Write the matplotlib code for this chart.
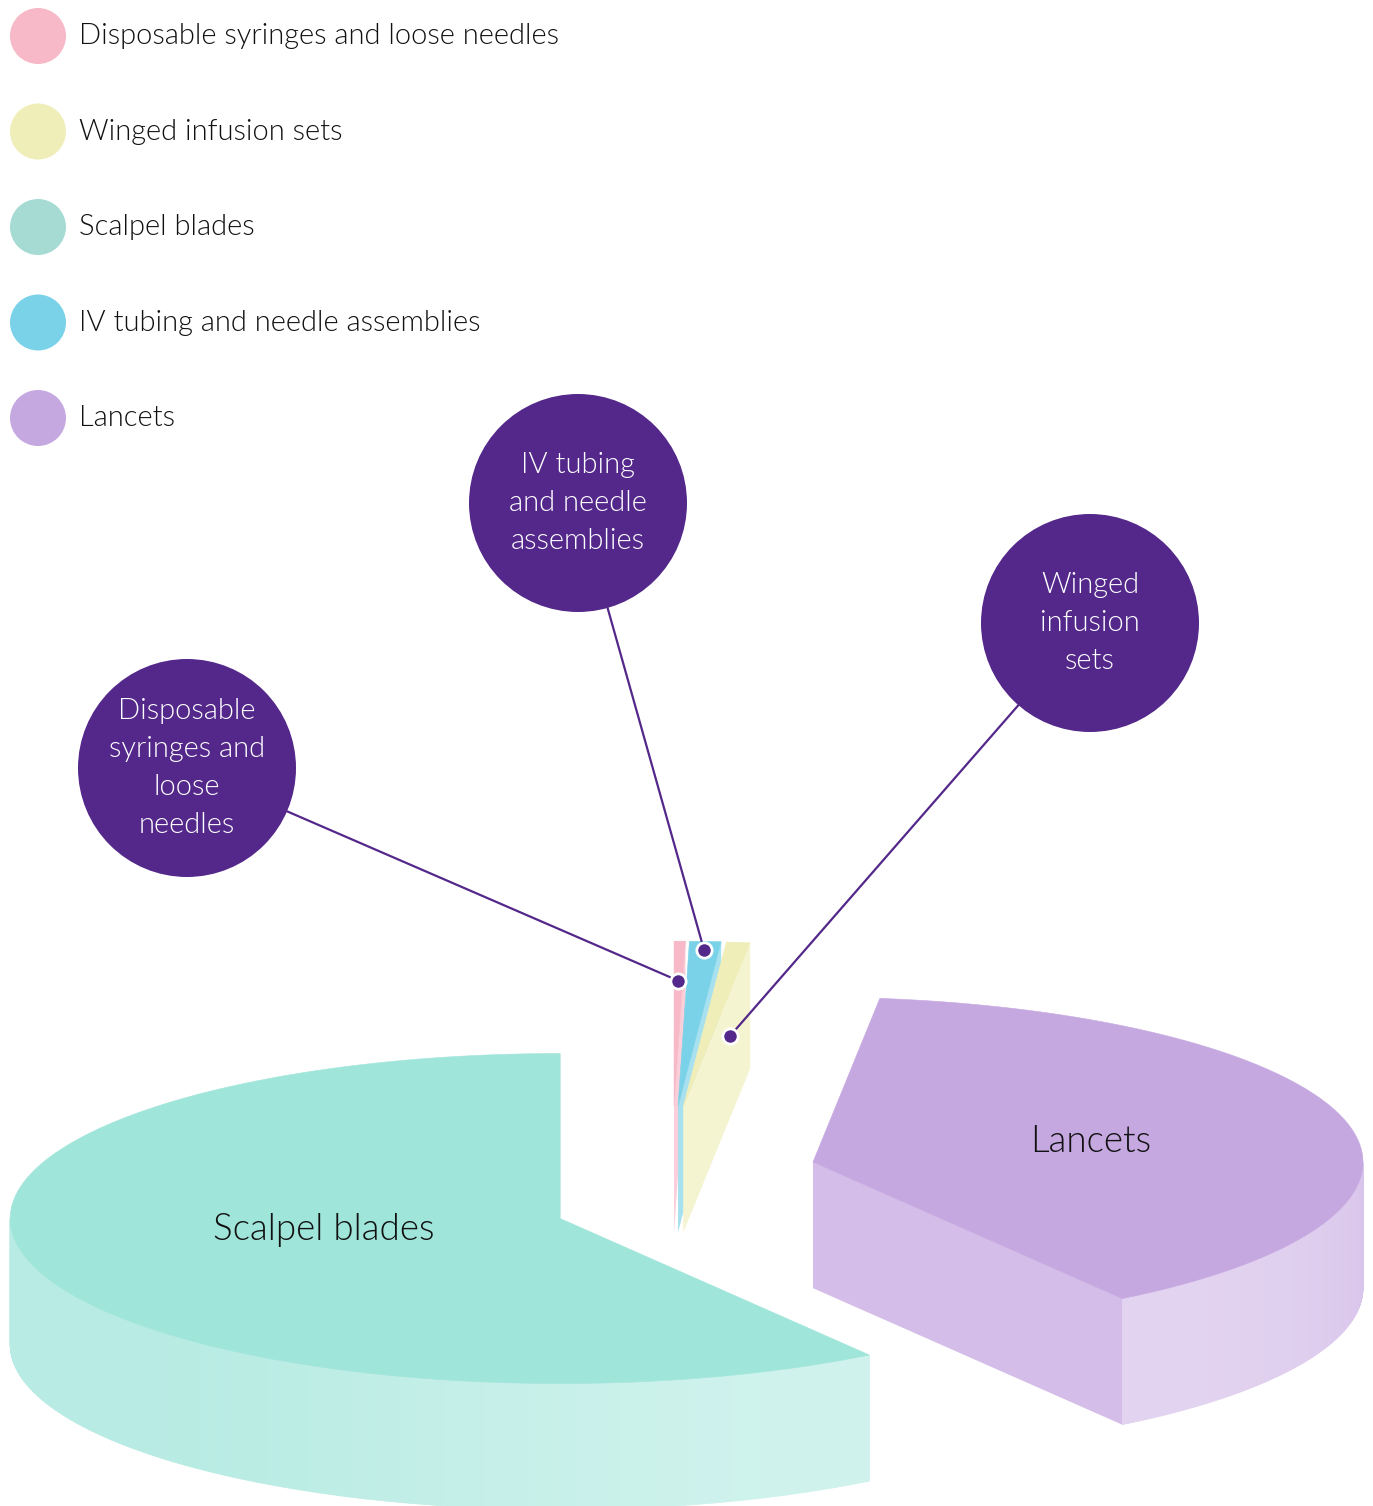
import numpy as np
import matplotlib.pyplot as plt
from matplotlib.patches import Polygon, Circle
from matplotlib.collections import PolyCollection
from matplotlib.colors import to_rgb

# data (legend order)
categories = ["Disposable syringes and loose needles", "Winged infusion sets",
              "Scalpel blades", "IV tubing and needle assemblies", "Lancets"]
shares = [0.33, 0.69, 59.5, 0.92, 38.56]
colors = ["#f7b8c7", "#f0eeb8", "#a0e5da", "#7ad2e9", "#c6a8e1"]
legend_colors = ["#f7b8c7", "#f0eeb8", "#a6dbd4", "#7ad2e9", "#c6a8e1"]

# order of slices on the pie, clockwise from 12 o'clock
pie_order = [0, 3, 1, 4, 2]

# layout / style
W, H = 1373, 1506
CX, CY = 673, 1190
RX, RY = 550, 165
DEPTH = 126
K = 0.822
pull = {0: 102, 3: 102, 1: 102, 4: 144, 2: 118}
purple = "#53288a"

bubble_text = {0: "Disposable\nsyringes and\nloose\nneedles",
               3: "IV tubing\nand needle\nassemblies",
               1: "Winged\ninfusion\nsets"}
bubble_pos = {0: (187, 768), 3: (578, 503), 1: (1090, 623)}
bubble_r = 109
tick_anchor = {0: (0.76, 0), 3: (0.95, 0), 1: (0.85, 69)}
inner_labels = {2: (0.45, -10), 4: (0.52, 0)}

plt.rcParams['font.family'] = ['Lato', 'DejaVu Sans']
FW = 300

fig = plt.figure(figsize=(W / 100, H / 100), dpi=100)
ax = fig.add_axes([0, 0, 1, 1])
ax.set_xlim(0, W)
ax.set_ylim(H, 0)
ax.axis("off")


def lighten(c, t):
    r = np.array(to_rgb(c))
    return tuple(r + (1 - r) * t)


def shade(phi):
    # lighter when the wall faces down-right
    v = max(0.0, np.cos(np.radians(phi + 56)))
    return 0.24 + 0.26 * v ** 2


# slice geometry
total = sum(shares)
slices = {}
cum = 0.0
for i in pie_order:
    span = shares[i] / total * 360
    a2 = 90 - cum
    a1 = a2 - span
    cum += span
    m = np.radians((a1 + a2) / 2)
    cx = CX + pull[i] * np.cos(m)
    cy = CY - K * pull[i] * np.sin(m)
    slices[i] = (a1, a2, cx, cy)


def pt(cx, cy, ang, f=1.0, d=0.0):
    a = np.radians(ang)
    return cx + f * RX * np.cos(a), cy - f * RY * np.sin(a) + d


# draw back slices first
for i in sorted(slices, key=lambda j: slices[j][3]):
    a1, a2, cx, cy = slices[i]
    col = colors[i]
    # outer wall (front part only), in thin strips for the gradient
    ts = np.linspace(a1, a2, max(4, int((a2 - a1) * 2)))
    quads, qcols = [], []
    for t0, t1 in zip(ts[:-1], ts[1:]):
        tm = (t0 + t1) / 2
        if np.sin(np.radians(tm)) >= 0:
            continue
        p0, p1 = pt(cx, cy, t0), pt(cx, cy, t1)
        quads.append([p0, p1, (p1[0], p1[1] + DEPTH), (p0[0], p0[1] + DEPTH)])
        qcols.append(lighten(col, shade(tm)))
    if quads:
        ax.add_collection(PolyCollection(quads, facecolors=qcols, edgecolors=qcols,
                                         linewidths=0.6, zorder=2))
    # radial wall at the clockwise end
    if np.cos(np.radians(a1)) > 1e-6:
        po = pt(cx, cy, a1)
        wall = [(cx, cy), po, (po[0], po[1] + DEPTH), (cx, cy + DEPTH)]
        ax.add_patch(Polygon(wall, closed=True, facecolor=lighten(col, shade(a1 - 90)),
                             edgecolor="none", zorder=2))
    # top face
    arc = [pt(cx, cy, t) for t in np.linspace(a1, a2, 200)]
    ax.add_patch(Polygon([(cx, cy)] + arc, closed=True, facecolor=col,
                         edgecolor=col, linewidth=0.4, zorder=2))

# labels inside the big slices
for i, (f, d) in inner_labels.items():
    a1, a2, cx, cy = slices[i]
    x, y = pt(cx, cy, (a1 + a2) / 2, f, d)
    ax.text(x, y, categories[i], ha="center", va="center", fontsize=26.5,
            fontweight=FW, color="#111111", zorder=5)

# callout bubbles
for i, txt in bubble_text.items():
    a1, a2, cx, cy = slices[i]
    f, d = tick_anchor[i]
    dx, dy = pt(cx, cy, (a1 + a2) / 2, f, d)
    bx, by = bubble_pos[i]
    u = np.array([dx - bx, dy - by])
    u /= np.linalg.norm(u)
    ax.plot([bx + bubble_r * u[0], dx], [by + bubble_r * u[1], dy], color=purple,
            lw=1.6, zorder=6)
    ax.plot(dx, dy, "o", ms=11, mfc=purple, mec="white", mew=2, zorder=7)
    ax.add_patch(Circle((bx, by), bubble_r, facecolor=purple, edgecolor="none", zorder=8))
    ax.text(bx, by, txt, ha="center", va="center", color="white", fontsize=21,
            fontweight=FW, linespacing=1.56, zorder=9)

# legend
for k, name in enumerate(categories):
    y = 36 + 95.5 * k
    ax.add_patch(Circle((38, y), 28, facecolor=legend_colors[k], edgecolor="none", zorder=3))
    ax.text(79, y, name, ha="left", va="center", fontsize=21.0, fontweight=FW,
            color="#111111", zorder=3)

fig.savefig("out.png", dpi=100)
